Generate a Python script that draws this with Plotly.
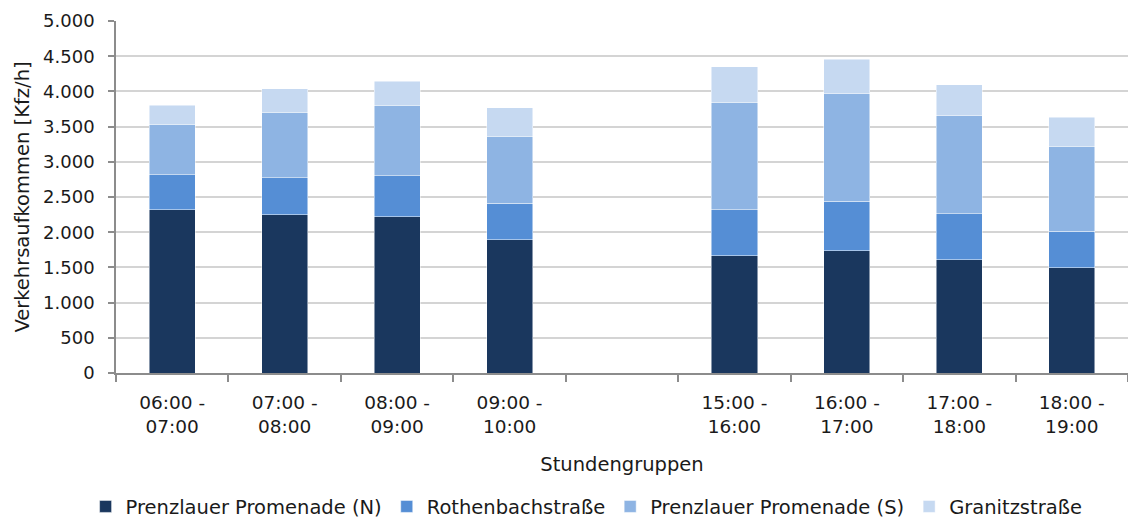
import plotly.graph_objects as go

categories = ["06:00 -<br>07:00", "07:00 -<br>08:00", "08:00 -<br>09:00", "09:00 -<br>10:00", " ",
              "15:00 -<br>16:00", "16:00 -<br>17:00", "17:00 -<br>18:00", "18:00 -<br>19:00"]
prenzlauer_n = [2320, 2245, 2221, 1890, None, 1668, 1739, 1612, 1498]
rothenbach = [497, 529, 582, 520, None, 652, 700, 652, 515]
prenzlauer_s = [718, 931, 1001, 955, None, 1527, 1526, 1389, 1210]
granitz = [269, 336, 341, 402, None, 506, 492, 440, 411]

series = [
    ("Prenzlauer Promenade (N)", prenzlauer_n, "#1a375e"),
    ("Rothenbachstraße", rothenbach, "#558ed5"),
    ("Prenzlauer Promenade (S)", prenzlauer_s, "#8eb4e3"),
    ("Granitzstraße", granitz, "#c6d9f1"),
]

font_family = "DejaVu Sans, Liberation Sans, Arial, sans-serif"

fig = go.Figure()
for name, vals, col in series:
    fig.add_trace(go.Bar(x=categories, y=vals, name=name,
                         marker=dict(color=col, line=dict(color="rgba(255,255,255,0.6)", width=0.8))))

fig.update_layout(
    barmode="stack",
    bargap=0.59,
    width=1128, height=519,
    margin=dict(l=116, r=0, t=21, b=146, autoexpand=False),
    plot_bgcolor="white", paper_bgcolor="white",
    separators=",.",
    font=dict(family=font_family, size=18, color="#1a1a1a"),
    showlegend=True,
    legend=dict(orientation="h", xref="paper", yref="paper",
                x=0.465, xanchor="center", y=-0.38, yanchor="middle",
                font=dict(size=19.5), itemwidth=30, traceorder="normal",
                tracegroupgap=0),
    xaxis=dict(
        type="category",
        showline=True, linecolor="#8c8c8c", linewidth=1.5,
        ticks="outside", tickson="boundaries", ticklen=7, tickcolor="#8c8c8c", tickwidth=1.5,
        showgrid=False,
        tickfont=dict(size=18.5),
        ticklabelstandoff=12,
        title=dict(text="Stundengruppen", font=dict(size=19.5), standoff=21),
    ),
    yaxis=dict(
        range=[0, 5000], dtick=500, tickformat=",d",
        showgrid=True, gridcolor="#d4d4d4", gridwidth=1.5,
        showline=True, linecolor="#8c8c8c", linewidth=1.5,
        ticks="outside", ticklen=6, tickcolor="#8c8c8c", tickwidth=1.5,
        tickfont=dict(size=18),
        ticklabelstandoff=10,
        title=dict(text="Verkehrsaufkommen [Kfz/h]", font=dict(size=19.5), standoff=8),
        zeroline=False,
    ),
)

fig.write_html("out.html",
               config={"displayModeBar": False},
               post_script="document.body.style.margin='0';document.body.style.padding='0';")
